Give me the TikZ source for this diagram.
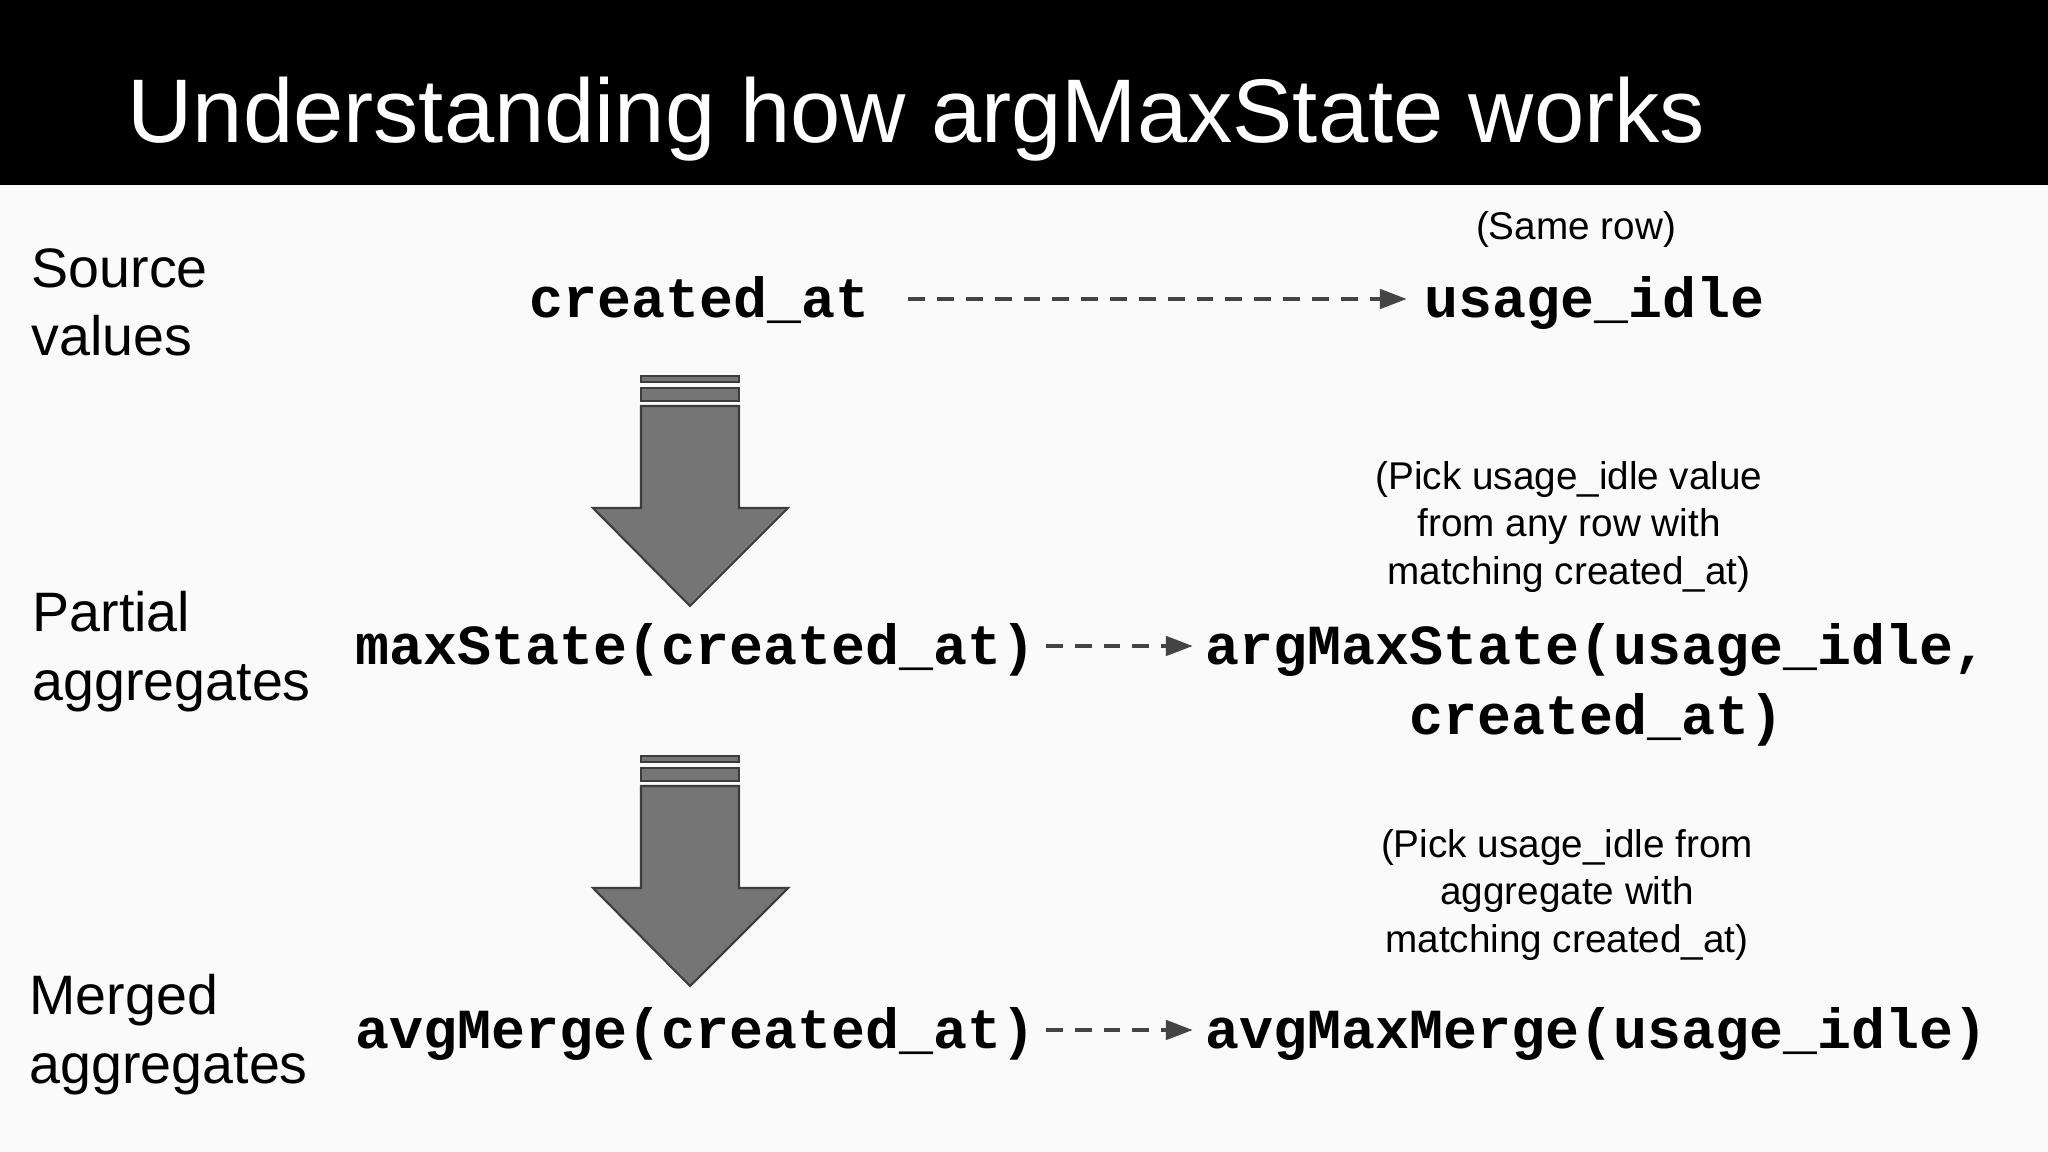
\documentclass[tikz,border=0pt]{standalone}
\usepackage{fontspec}
\setmainfont{Liberation Sans}
\setmonofont{Liberation Mono}
\usetikzlibrary{arrows.meta}

\definecolor{slidebg}{HTML}{FAFAFA}
\definecolor{arrowgray}{HTML}{757575}
\definecolor{edgegray}{HTML}{3C3C3C}
\definecolor{dashgray}{HTML}{444444}

\begin{document}
\begin{tikzpicture}[
    x=0.01cm, y=-0.01cm,
    titletext/.style={
        font=\fontsize{25.7}{30}\selectfont, text=white,
        inner sep=0pt, anchor=base west,
    },
    rowlabel/.style={
        font=\fontsize{15.8}{19.35}\selectfont, align=left,
        inner sep=0pt, anchor=base west,
    },
    code/.style={
        font=\fontsize{16.1}{19.9}\selectfont\ttfamily\bfseries, align=center,
        inner sep=0pt, anchor=base west,
    },
    note/.style={
        font=\fontsize{11}{13.4}\selectfont, align=center,
        inner sep=0pt, anchor=base,
    },
    dasharr/.style={-{Triangle[length=7.7pt, width=5.4pt]}, line width=1.3pt,
        dashgray, dash pattern=on 4.8pt off 3.4pt},
    blockarr/.pic={
        \filldraw[fill=arrowgray, draw=edgegray, line width=0.6pt]
            (-49,0) rectangle (49,6);
        \filldraw[fill=arrowgray, draw=edgegray, line width=0.6pt]
            (-49,12) rectangle (49,25);
        \filldraw[fill=arrowgray, draw=edgegray, line width=0.6pt, line join=miter]
            (-49,30) -- (-49,132) -- (-97,132) -- (0,230) -- (98,132)
            -- (49,132) -- (49,30) -- cycle;
    },
]

% === SLIDE: background and header ===
\useasboundingbox (0,0) rectangle (2048,1152);
\fill[slidebg] (0,0) rectangle (2048,1152);
\fill[black] (0,0) rectangle (2048,185);
\node[titletext] (title) at (127,143) {Understanding how argMaxState works};

% Row labels (base = last line)
\node[rowlabel] (lsource) at (31,356) {Source\\values};
\node[rowlabel] (lpartial) at (32,700) {Partial\\aggregates};
\node[rowlabel] (lmerged) at (29,1083) {Merged\\aggregates};

% === ROW 1: source values ===
\node[code] (src) at (529,318) {created\_at};
\node[code] (srcval) at (1424,318) {usage\_idle};
\node[note] (nsame) at (1576,240) {(Same row)};
\draw[dasharr] ([shift={(38,-19)}]src.base east) -- ([shift={(-17,-19)}]srcval.base west);

% === ROW 2: partial aggregates ===
\node[code] (part) at (355,665) {maxState(created\_at)};
\node[code] (partval) at (1205,734) {argMaxState(usage\_idle,\\created\_at)};
\node[note] (npick) at (1569,584) {(Pick usage\_idle value\\from any row with\\matching created\_at)};
\draw[dasharr] ([shift={(10,-19)}]part.base east) -- ([shift={(-12,-19)}]partval.west |- part.base);

% === ROW 3: merged aggregates ===
\node[code] (merge) at (355,1048) {avgMerge(created\_at)};
\node[code] (mergeval) at (1205,1048) {avgMaxMerge(usage\_idle)};
\node[note] (nagg) at (1567,952) {(Pick usage\_idle from\\aggregate with\\matching created\_at)};
\draw[dasharr] ([shift={(10,-18)}]merge.base east) -- ([shift={(-12,-18)}]mergeval.base west);

% Block arrows between rows
\pic at (690,376) {blockarr};
\pic at (690,756) {blockarr};

\end{tikzpicture}
\end{document}
